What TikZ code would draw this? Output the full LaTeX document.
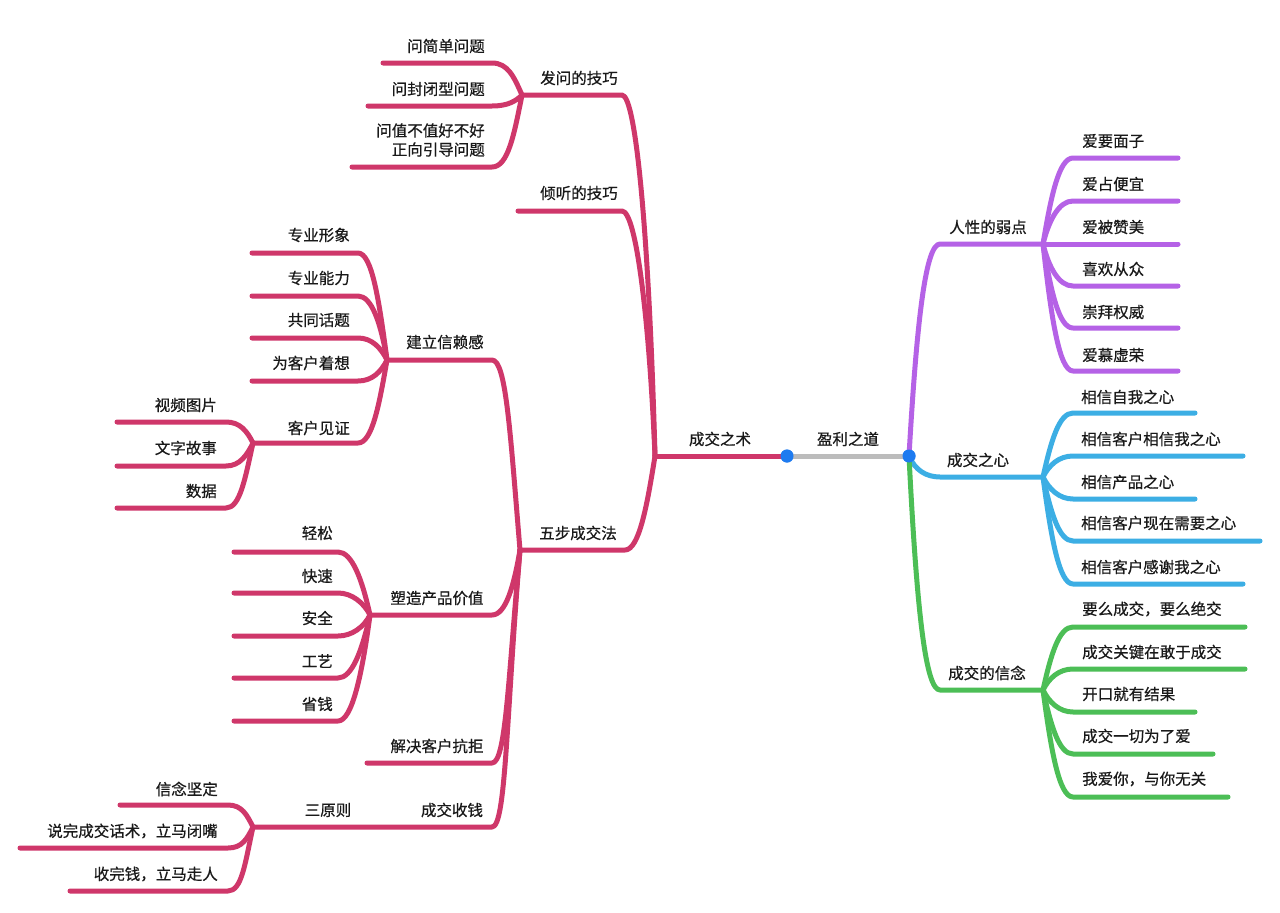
\documentclass[tikz,border=0pt]{standalone}
\usepackage{fontspec}
\newfontfamily\cjk[FakeBold=0.6]{Noto Sans CJK SC}
\definecolor{rd}{RGB}{207,55,106}
\definecolor{pu}{RGB}{181,98,230}
\definecolor{bl}{RGB}{60,174,228}
\definecolor{gr}{RGB}{76,190,86}
\definecolor{gy}{RGB}{188,188,188}
\definecolor{dt}{RGB}{30,123,240}
\definecolor{tx}{RGB}{25,25,25}
\tikzset{
  br/.style={line width=5pt,line cap=round,line join=round},
  lab/.style={font=\cjk\fontsize{15.5}{19}\selectfont,text=tx,inner sep=0pt},
  ll/.style={lab,anchor=east},
  rl/.style={lab,anchor=west},
  cl/.style={lab,anchor=center},
  dot/.style={circle,fill=dt,inner sep=0pt,minimum size=13pt}
}
\begin{document}
\begin{tikzpicture}[x=1pt,y=-1pt]
\useasboundingbox (0,0) rectangle (1280,913);
\fill[white] (0,0) rectangle (1280,913);
% hubs
\coordinate (L) at (655,456);
\coordinate (R) at (909,456);
\coordinate (A) at (522,95);
\coordinate (B) at (520,550);
\coordinate (C) at (387,360);
\coordinate (D) at (370,615);
\coordinate (E) at (253,827);
\coordinate (F) at (253,443);
\coordinate (P) at (1043,244);
\coordinate (Q) at (1043,477);
\coordinate (G) at (1043,690);
\node[dot] (dl) at (787,456) {};
\node[dot] (dr) at (909,456) {};
% center
\draw[br,rd] (L) -- (dl.center);
\draw[br,gy] (dl.center) -- (dr.center);
% left trunks
\coordinate (ea) at (622,95);
\coordinate (eb) at (622,211);
\coordinate (tb) at (518,211);
\coordinate (ec) at (625,550);
\draw[br,rd] (L) .. controls +(-6,-220) and +(14,0) .. (ea) -- (A);
\draw[br,rd] (L) .. controls +(-6,-140) and +(14,0) .. (eb) -- (tb);
\draw[br,rd] (L) .. controls +(-8,50) and +(14,0) .. (ec) -- (B);
% A children
\coordinate (a1) at (492,63); \coordinate (a1t) at (383,63);
\coordinate (a2) at (492,106); \coordinate (a2t) at (368,106);
\coordinate (a3) at (492,167); \coordinate (a3t) at (352,167);
\draw[br,rd] (A) .. controls +(-8,-18) and +(16,0) .. (a1) -- (a1t);
\draw[br,rd] (A) .. controls +(-6,6) and +(16,0) .. (a2) -- (a2t);
\draw[br,rd] (A) .. controls +(-8,40) and +(16,0) .. (a3) -- (a3t);
% B children
\coordinate (b1) at (492,360);
\coordinate (b2) at (492,615);
\coordinate (b3) at (492,763); \coordinate (b3t) at (367,763);
\coordinate (b4) at (492,827);
\draw[br,rd] (B) .. controls +(-10,-120) and +(14,0) .. (b1) -- (C);
\draw[br,rd] (B) .. controls +(-6,35) and +(14,0) .. (b2) -- (D);
\draw[br,rd] (B) .. controls +(-12,130) and +(14,0) .. (b3) -- (b3t);
\draw[br,rd] (B) .. controls +(-14,170) and +(14,0) .. (b4) -- (E);
% C children
\coordinate (c1) at (358,253); \coordinate (c1t) at (252,253);
\coordinate (c2) at (358,296); \coordinate (c2t) at (252,296);
\coordinate (c3) at (358,338); \coordinate (c3t) at (252,338);
\coordinate (c4) at (358,381); \coordinate (c4t) at (252,381);
\coordinate (c5) at (358,443);
\draw[br,rd] (C) .. controls +(-8,-60) and +(14,0) .. (c1) -- (c1t);
\draw[br,rd] (C) .. controls +(-6,-36) and +(14,0) .. (c2) -- (c2t);
\draw[br,rd] (C) .. controls +(-6,-12) and +(14,0) .. (c3) -- (c3t);
\draw[br,rd] (C) .. controls +(-6,12) and +(14,0) .. (c4) -- (c4t);
\draw[br,rd] (C) .. controls +(-8,46) and +(14,0) .. (c5) -- (F);
% F children
\coordinate (f1) at (226,422); \coordinate (f1t) at (117,422);
\coordinate (f2) at (226,466); \coordinate (f2t) at (117,466);
\coordinate (f3) at (226,508); \coordinate (f3t) at (117,508);
\draw[br,rd] (F) .. controls +(-6,-12) and +(14,0) .. (f1) -- (f1t);
\draw[br,rd] (F) .. controls +(-6,12) and +(14,0) .. (f2) -- (f2t);
\draw[br,rd] (F) .. controls +(-8,36) and +(14,0) .. (f3) -- (f3t);
% D children
\coordinate (d1) at (338,552); \coordinate (d1t) at (234,552);
\coordinate (d2) at (338,593); \coordinate (d2t) at (234,593);
\coordinate (d3) at (338,636); \coordinate (d3t) at (234,636);
\coordinate (d4) at (338,678); \coordinate (d4t) at (234,678);
\coordinate (d5) at (338,721); \coordinate (d5t) at (234,721);
\draw[br,rd] (D) .. controls +(-8,-36) and +(14,0) .. (d1) -- (d1t);
\draw[br,rd] (D) .. controls +(-6,-12) and +(14,0) .. (d2) -- (d2t);
\draw[br,rd] (D) .. controls +(-6,12) and +(14,0) .. (d3) -- (d3t);
\draw[br,rd] (D) .. controls +(-8,36) and +(14,0) .. (d4) -- (d4t);
\draw[br,rd] (D) .. controls +(-8,60) and +(14,0) .. (d5) -- (d5t);
% E children
\coordinate (g1) at (228,805); \coordinate (g1t) at (120,805);
\coordinate (g2) at (228,848); \coordinate (g2t) at (20,848);
\coordinate (g3) at (228,891); \coordinate (g3t) at (70,891);
\draw[br,rd] (E) .. controls +(-6,-12) and +(14,0) .. (g1) -- (g1t);
\draw[br,rd] (E) .. controls +(-6,12) and +(14,0) .. (g2) -- (g2t);
\draw[br,rd] (E) .. controls +(-8,36) and +(14,0) .. (g3) -- (g3t);
% right trunks
\coordinate (rp) at (940,244);
\coordinate (rq) at (940,477);
\coordinate (rg) at (940,690);
\draw[br,pu] (R) .. controls +(8,-140) and +(-14,0) .. (rp) -- (P);
\draw[br,bl] (R) .. controls +(6,14) and +(-14,0) .. (rq) -- (Q);
\draw[br,gr] (R) .. controls +(8,160) and +(-14,0) .. (rg) -- (G);
% P children
\coordinate (p1) at (1073,158); \coordinate (p1t) at (1178,158);
\coordinate (p2) at (1073,201); \coordinate (p2t) at (1178,201);
\coordinate (p3t) at (1178,244);
\coordinate (p4) at (1073,286); \coordinate (p4t) at (1178,286);
\coordinate (p5) at (1073,328); \coordinate (p5t) at (1178,328);
\coordinate (p6) at (1073,371); \coordinate (p6t) at (1178,371);
\draw[br,pu] (P) .. controls +(8,-48) and +(-14,0) .. (p1) -- (p1t);
\draw[br,pu] (P) .. controls +(6,-24) and +(-14,0) .. (p2) -- (p2t);
\draw[br,pu] (P) -- (p3t);
\draw[br,pu] (P) .. controls +(6,24) and +(-14,0) .. (p4) -- (p4t);
\draw[br,pu] (P) .. controls +(8,48) and +(-14,0) .. (p5) -- (p5t);
\draw[br,pu] (P) .. controls +(8,72) and +(-14,0) .. (p6) -- (p6t);
% Q children
\coordinate (q1) at (1073,413); \coordinate (q1t) at (1195,413);
\coordinate (q2) at (1073,456); \coordinate (q2t) at (1243,456);
\coordinate (q3) at (1073,499); \coordinate (q3t) at (1195,499);
\coordinate (q4) at (1073,541); \coordinate (q4t) at (1260,541);
\coordinate (q5) at (1073,584); \coordinate (q5t) at (1243,584);
\draw[br,bl] (Q) .. controls +(8,-36) and +(-14,0) .. (q1) -- (q1t);
\draw[br,bl] (Q) .. controls +(6,-12) and +(-14,0) .. (q2) -- (q2t);
\draw[br,bl] (Q) .. controls +(6,12) and +(-14,0) .. (q3) -- (q3t);
\draw[br,bl] (Q) .. controls +(8,36) and +(-14,0) .. (q4) -- (q4t);
\draw[br,bl] (Q) .. controls +(8,60) and +(-14,0) .. (q5) -- (q5t);
% G children
\coordinate (h1) at (1073,627); \coordinate (h1t) at (1245,627);
\coordinate (h2) at (1073,669); \coordinate (h2t) at (1245,669);
\coordinate (h3) at (1073,712); \coordinate (h3t) at (1195,712);
\coordinate (h4) at (1073,754); \coordinate (h4t) at (1213,754);
\coordinate (h5) at (1073,797); \coordinate (h5t) at (1228,797);
\draw[br,gr] (G) .. controls +(8,-36) and +(-14,0) .. (h1) -- (h1t);
\draw[br,gr] (G) .. controls +(6,-12) and +(-14,0) .. (h2) -- (h2t);
\draw[br,gr] (G) .. controls +(6,12) and +(-14,0) .. (h3) -- (h3t);
\draw[br,gr] (G) .. controls +(8,36) and +(-14,0) .. (h4) -- (h4t);
\draw[br,gr] (G) .. controls +(8,60) and +(-14,0) .. (h5) -- (h5t);
% dots on top
\node[dot] at (dl) {};
\node[dot] at (dr) {};
% labels center
\node[cl] (t0) at (720,439) {成交之术};
\node[cl] (t1) at (848,439) {盈利之道};
\node[cl] (ta) at (579,78) {发问的技巧};
\node[cl] (tbb) at (579,193) {倾听的技巧};
\node[cl] (tc) at (578,533) {五步成交法};
\node[cl] (tC) at (445,342) {建立信赖感};
\node[cl] (tD) at (437,598) {塑造产品价值};
\node[cl] (tK) at (437,746) {解决客户抗拒};
\node[cl] (tE) at (452,810) {成交收钱};
\node[cl] (tS) at (328,810) {三原则};
\node[cl] (tP) at (988,227) {人性的弱点};
\node[cl] (tQ) at (978,460) {成交之心};
\node[cl] (tG) at (987,673) {成交的信念};
% left leaves
\node[ll] (la1) at (485,46) {问简单问题};
\node[ll] (la2) at (485,89) {问封闭型问题};
\node[ll,align=right] (la3) at (485,140) {问值不值好不好\\正向引导问题};
\node[ll] (lc1) at (350,235) {专业形象};
\node[ll] (lc2) at (350,278) {专业能力};
\node[ll] (lc3) at (350,320) {共同话题};
\node[ll] (lc4) at (350,363) {为客户着想};
\node[ll] (lc5) at (350,428) {客户见证};
\node[ll] (lf1) at (217,405) {视频图片};
\node[ll] (lf2) at (217,448) {文字故事};
\node[ll] (lf3) at (217,491) {数据};
\node[ll] (ld1) at (333,533) {轻松};
\node[ll] (ld2) at (333,576) {快速};
\node[ll] (ld3) at (333,618) {安全};
\node[ll] (ld4) at (333,661) {工艺};
\node[ll] (ld5) at (333,704) {省钱};
\node[ll] (lg1) at (218,789) {信念坚定};
\node[ll] (lg2) at (218,831) {说完成交话术，立马闭嘴};
\node[ll] (lg3) at (218,874) {收完钱，立马走人};
% right leaves
\node[rl] (rp1) at (1082,141) {爱要面子};
\node[rl] (rp2) at (1082,184) {爱占便宜};
\node[rl] (rp3) at (1082,227) {爱被赞美};
\node[rl] (rp4) at (1082,269) {喜欢从众};
\node[rl] (rp5) at (1082,312) {崇拜权威};
\node[rl] (rp6) at (1082,355) {爱慕虚荣};
\node[rl] (rq1) at (1081,397) {相信自我之心};
\node[rl] (rq2) at (1081,439) {相信客户相信我之心};
\node[rl] (rq3) at (1081,482) {相信产品之心};
\node[rl] (rq4) at (1081,523) {相信客户现在需要之心};
\node[rl] (rq5) at (1081,567) {相信客户感谢我之心};
\node[rl] (rg1) at (1082,609) {要么成交，要么绝交};
\node[rl] (rg2) at (1082,652) {成交关键在敢于成交};
\node[rl] (rg3) at (1082,694) {开口就有结果};
\node[rl] (rg4) at (1082,736) {成交一切为了爱};
\node[rl] (rg5) at (1082,779) {我爱你，与你无关};
\end{tikzpicture}
\end{document}
